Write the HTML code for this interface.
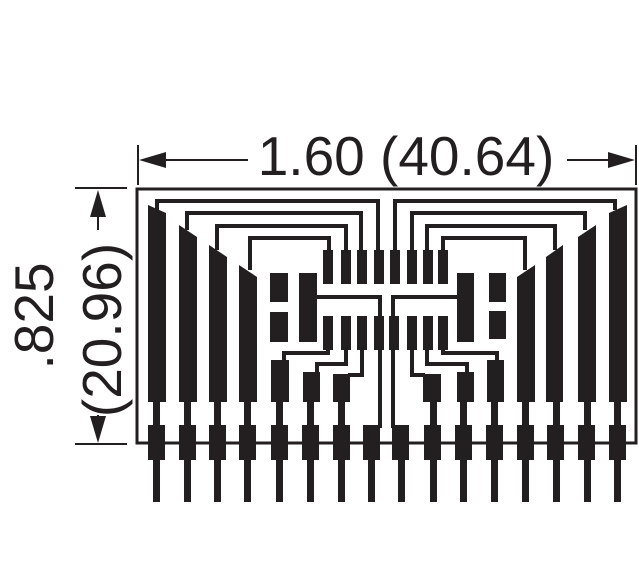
<!DOCTYPE html>
<html><head><meta charset="utf-8"><style>
html,body{margin:0;padding:0;background:#fff;}
svg{display:block;}
text{font-family:"Liberation Sans",Arial,sans-serif;fill:#231f20;}
</style></head><body>
<svg width="639" height="584" viewBox="0 0 639 584" xmlns="http://www.w3.org/2000/svg">
<g fill="#231f20" stroke="none">
<!-- dimension top -->
<rect x="137" y="145" width="2" height="40"/>
<rect x="635" y="145" width="2" height="40"/>
<rect x="150" y="159" width="98" height="2"/>
<polygon points="139,160 166,152 166,168"/>
<rect x="567" y="159" width="58" height="2"/>
<polygon points="635,160 608,152 608,168"/>
<text x="406" y="175" font-size="55" text-anchor="middle" stroke="none">1.60 (40.64)</text>
<!-- dimension left -->
<rect x="75" y="187" width="52" height="2"/>
<rect x="75" y="443" width="52" height="2"/>
<rect x="97" y="200" width="2" height="30"/>
<polygon points="98,190 90,217 106,217"/>
<rect x="97" y="415" width="2" height="20"/>
<polygon points="98,443 90,416 106,416"/>
<text transform="translate(53,316) rotate(-90)" font-size="55" text-anchor="middle">.825</text>
<text transform="translate(121,330) rotate(-90)" font-size="55" text-anchor="middle">(20.96)</text>
</g>
<!-- board outline -->
<rect x="137" y="189" width="499" height="254" fill="none" stroke="#231f20" stroke-width="3"/>
<g fill="none" stroke="#231f20" stroke-width="4">
<!-- left routing -->
<polyline points="157,210 157,201 378,201 378,252"/>
<polyline points="187,230 187,213 361,213 361,252"/>
<polyline points="217,250 217,226 346,226 346,252"/>
<polyline points="250,270 250,238 329,238 329,252"/>
<polyline points="317,297 380,297 380,428"/>
<polyline points="328,348 328,353 284,353 284,362"/>
<polyline points="346,348 346,364 317,364 317,375"/>
<polyline points="362,348 362,375 348,375"/>
<!-- right routing -->
<polyline points="615,210 615,201 395,201 395,252"/>
<polyline points="585,230 585,213 412,213 412,252"/>
<polyline points="555,250 555,226 427,226 427,252"/>
<polyline points="525,270 525,238 443,238 443,252"/>
<polyline points="458,297 393,297 393,428"/>
<polyline points="443,348 443,353 497,353 497,362"/>
<polyline points="427,348 427,364 467,364 467,375"/>
<polyline points="412,348 412,375 425,375"/>
</g>
<g fill="#231f20">
<!-- tall tapered pads left -->
<polygon points="148,205 166,213 166,402 148,402"/>
<polygon points="179,225 197,237 197,402 179,402"/>
<polygon points="209,245 227,257 227,402 209,402"/>
<polygon points="239,265 257,277 257,402 239,402"/>
<!-- tall tapered pads right -->
<polygon points="517,277 535,265 535,402 517,402"/>
<polygon points="546,257 563,245 563,402 546,402"/>
<polygon points="578,237 596,225 596,402 578,402"/>
<polygon points="609,213 627,205 627,402 609,402"/>
<!-- lower small pads -->
<rect x="271" y="360" width="18" height="42"/>
<rect x="303" y="372" width="17" height="30"/>
<rect x="333" y="374" width="17" height="28"/>
<rect x="423" y="374" width="18" height="28"/>
<rect x="457" y="372" width="17" height="30"/>
<rect x="487" y="360" width="17" height="42"/>
<!-- square pads -->
<rect x="270" y="273" width="18" height="29"/>
<rect x="270" y="312" width="18" height="30"/>
<rect x="299" y="273" width="18" height="69"/>
<rect x="457" y="273" width="17" height="69"/>
<rect x="489" y="273" width="17" height="29"/>
<rect x="489" y="311" width="17" height="28"/>
<!-- chip pins -->
<g>
<rect x="323" y="250" width="10" height="34"/><rect x="341" y="250" width="10" height="34"/>
<rect x="357" y="250" width="10" height="34"/><rect x="374" y="250" width="10" height="34"/>
<rect x="390" y="250" width="10" height="34"/><rect x="407" y="250" width="10" height="34"/>
<rect x="423" y="250" width="10" height="34"/><rect x="438" y="250" width="10" height="34"/>
<rect x="323" y="316" width="10" height="34"/><rect x="341" y="316" width="10" height="34"/>
<rect x="357" y="316" width="10" height="34"/><rect x="374" y="316" width="10" height="34"/>
<rect x="389" y="316" width="10" height="34"/><rect x="407" y="316" width="10" height="34"/>
<rect x="423" y="316" width="10" height="34"/><rect x="438" y="316" width="10" height="34"/>
</g>
</g>
<!-- stems, pads, leads -->
<g fill="#231f20">
<g id="p"></g>
<rect x="153" y="400" width="7" height="102"/><rect x="148" y="425" width="17" height="35"/>
<rect x="184" y="400" width="7" height="102"/><rect x="179" y="425" width="17" height="35"/>
<rect x="214" y="400" width="7" height="102"/><rect x="209" y="425" width="17" height="35"/>
<rect x="244" y="400" width="7" height="102"/><rect x="239" y="425" width="17" height="35"/>
<rect x="276" y="400" width="7" height="102"/><rect x="271" y="425" width="17" height="35"/>
<rect x="307" y="400" width="7" height="102"/><rect x="302" y="425" width="17" height="35"/>
<rect x="338" y="400" width="7" height="102"/><rect x="333" y="425" width="17" height="35"/>
<rect x="368" y="430" width="7" height="72"/><rect x="363" y="425" width="17" height="35"/>
<rect x="398" y="430" width="7" height="72"/><rect x="392" y="425" width="17" height="35"/>
<rect x="430" y="400" width="7" height="102"/><rect x="424" y="425" width="17" height="35"/>
<rect x="460" y="400" width="7" height="102"/><rect x="455" y="425" width="17" height="35"/>
<rect x="491" y="400" width="7" height="102"/><rect x="486" y="425" width="17" height="35"/>
<rect x="522" y="400" width="7" height="102"/><rect x="517" y="425" width="17" height="35"/>
<rect x="553" y="400" width="7" height="102"/><rect x="547" y="425" width="17" height="35"/>
<rect x="584" y="400" width="7" height="102"/><rect x="578" y="425" width="17" height="35"/>
<rect x="614" y="400" width="7" height="102"/><rect x="609" y="425" width="17" height="35"/>
</g>
</svg>
</body></html>
